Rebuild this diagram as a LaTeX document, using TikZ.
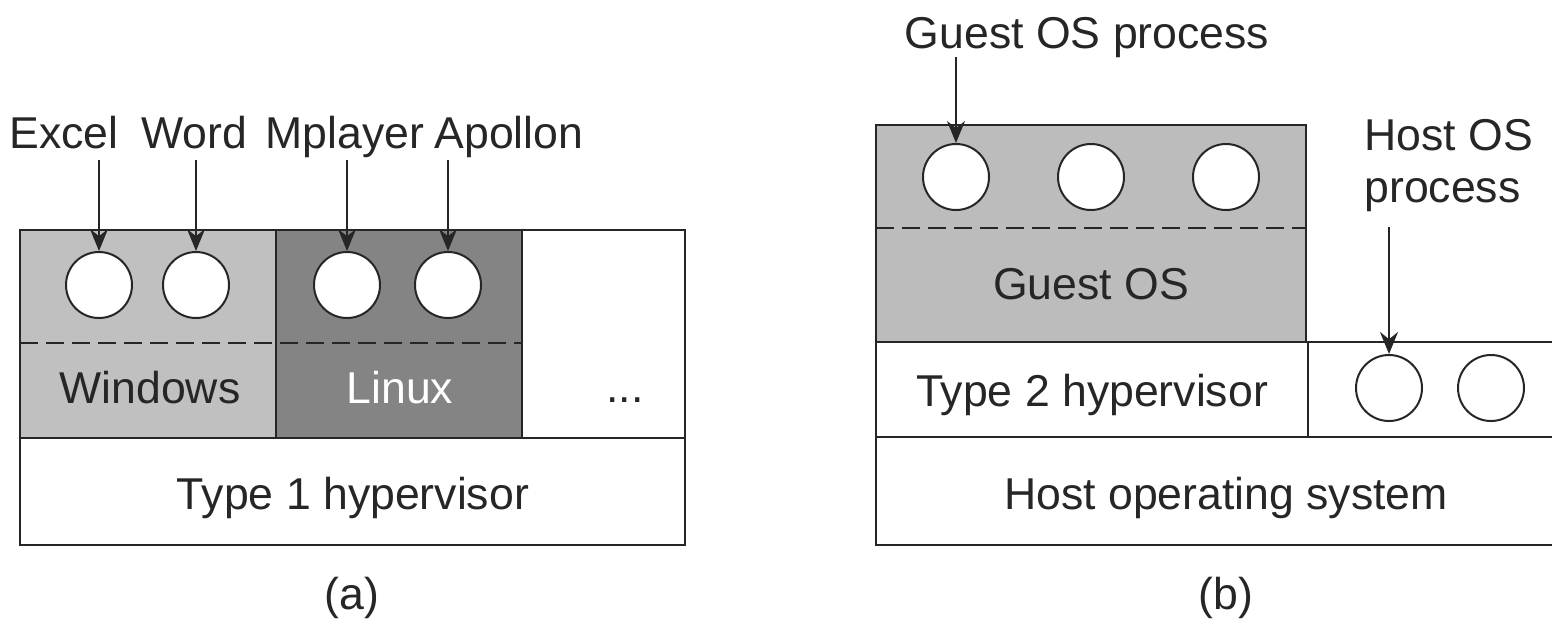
\documentclass[tikz,border=0pt]{standalone}
\usepackage{fontspec}
\setmainfont{Liberation Sans}
\definecolor{hvWin}{RGB}{192, 192, 192}
\definecolor{hvLinux}{RGB}{132, 132, 132}
\definecolor{hvGuest}{RGB}{188, 188, 188}
\definecolor{hvLine}{RGB}{38, 38, 38}
\usepackage{tikz}
\usetikzlibrary{
  arrows.meta,
  positioning
}
\tikzset{
  % Layer boxes
  layer/.style={draw=hvLine, line width=1.2pt},
  sepline/.style={draw=hvLine, line width=0.9pt, dash pattern=on 9pt off 4pt},
  % Processes
  proc/.style={
    circle,
    draw=hvLine,
    fill=white,
    line width=1pt,
    minimum size=33pt,
    inner sep=0pt
  },
  % Texts
  txt/.style={
    font=\fontsize{22.3}{26}\selectfont,
    text=hvLine,
    inner sep=2pt
  },
  tag/.style={txt, text height=0.75em, text depth=0.22em},
  % Arrows
  arrow/.style={-{Stealth[length=11pt, width=9pt]}, line width=1pt, draw=hvLine},
}
\begin{document}
\begin{tikzpicture}[x=0.5pt, y=-0.5pt]
  \useasboundingbox (0,0) rectangle (1552,623);
  \clip (0,0) rectangle (1552,623);

  \fill[hvWin] (20,230) rectangle (276,438);
  \fill[hvLinux] (276,230) rectangle (522,438);
  \draw[layer] (20,230) rectangle (685,545);
  \draw[layer] (20,438) -- (685,438);
  \draw[layer] (276,230) -- (276,438) (522,230) -- (522,438);
  \draw[sepline] (20,343) -- (522,343);

  \node[proc] (excelp) at (99,285) {};
  \node[proc] (wordp) at (196,285) {};
  \node[proc] (mplayerp) at (347,285) {};
  \node[proc] (apollonp) at (448,285) {};

  \node[tag, anchor=base] (excel) at (64,148) {Excel};
  \node[tag, anchor=base] (word) at (194,148) {Word};
  \node[tag, anchor=base] (mplayer) at (345,148) {Mplayer};
  \node[tag, anchor=base] (apollon) at (509,148) {Apollon};

  \draw[arrow, shorten <=1.5pt] (excel.south -| excelp) -- (excelp.north);
  \draw[arrow, shorten <=1.5pt] (word.south -| wordp) -- (wordp.north);
  \draw[arrow, shorten <=1.5pt] (mplayer.south -| mplayerp) -- (mplayerp.north);
  \draw[arrow, shorten <=1.5pt] (apollon.south -| apollonp) -- (apollonp.north);

  \node[txt, anchor=base] (windows) at (150,403) {Windows};
  \node[txt, anchor=base, text=white] (linux) at (400,403) {Linux};
  \node[txt, anchor=base] (more) at (625,402) {...};
  \node[txt, anchor=base] (type1) at (353,509) {Type 1 hypervisor};
  \node[txt, anchor=base] (capa) at (352,609) {(a)};

  \fill[hvGuest] (876,125) rectangle (1306,342);
  \draw[layer] (876,125) rectangle (1306,342);
  \draw[sepline] (876,228) -- (1306,228);
  \draw[layer] (876,342) rectangle (1575,437);
  \draw[layer] (1308,342) -- (1308,437);
  \draw[layer] (876,437) rectangle (1575,545);

  \node[proc] (guestp1) at (956,177) {};
  \node[proc] (guestp2) at (1091,177) {};
  \node[proc] (guestp3) at (1226,177) {};
  \node[proc] (hostp1) at (1389,388) {};
  \node[proc] (hostp2) at (1491,388) {};

  \node[tag, anchor=base] (guestproc) at (1087,48) {Guest OS process};
  \node[txt, anchor=west, align=left] (hostproc) at (1360,166) {Host OS\\process};

  \draw[arrow] (guestproc.south -| guestp1) -- (guestp1.north);
  \draw[arrow, shorten <=5pt] (hostproc.south -| hostp1) -- (hostp1.north);

  \node[txt, anchor=base] (guestos) at (1091,299) {Guest OS};
  \node[txt, anchor=base] (type2) at (1092,406) {Type 2 hypervisor};
  \node[txt, anchor=base] (hostos) at (1226,509) {Host operating system};
  \node[txt, anchor=base] (capb) at (1226,609) {(b)};
\end{tikzpicture}
\end{document}
